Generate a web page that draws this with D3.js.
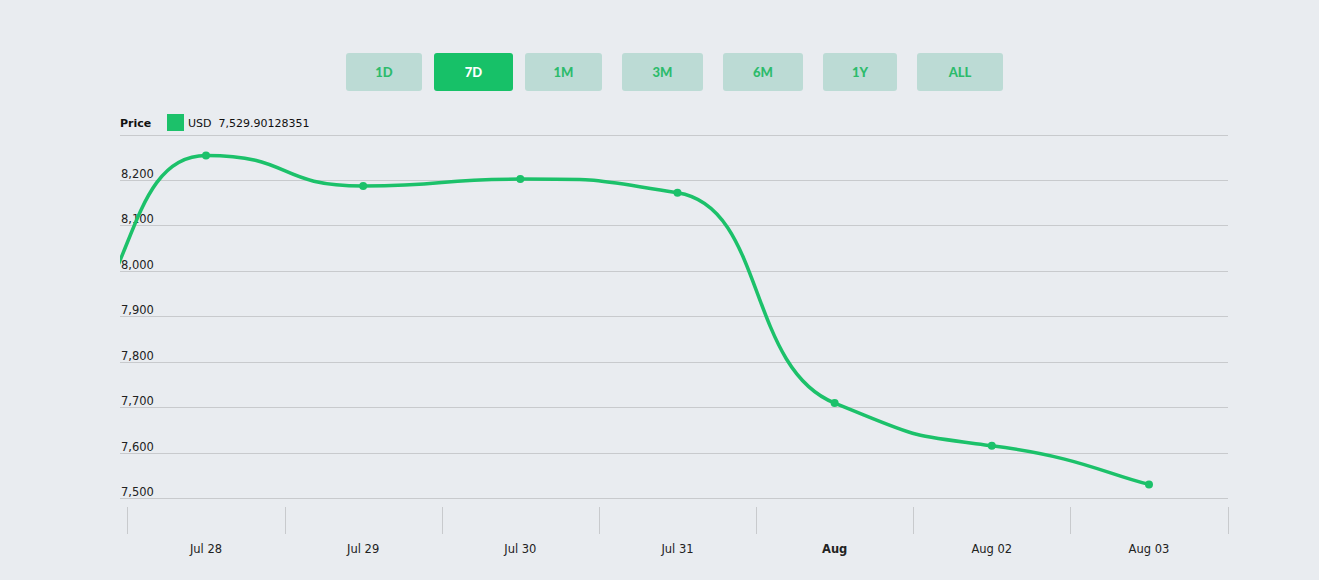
<!DOCTYPE html>
<html>
<head>
<meta charset="utf-8">
<script src="https://cdn.jsdelivr.net/npm/d3@7"></script>
<style>
  html, body { margin: 0; padding: 0; background: #e9ecf0; }
  svg { display: block; }
</style>
</head>
<body>
<svg id="chart" width="1319" height="580"></svg>
<script>
// ---- data ----
const dates = ["2018-07-26", "2018-07-27", "2018-07-28", "2018-07-29", "2018-07-30", "2018-07-31", "2018-08-01", "2018-08-02", "2018-08-03"];
const prices = [8170, 7872, 8254, 8187, 8202, 8172, 7709, 7615, 7529.90128351];
const yTicks = [7500, 7600, 7700, 7800, 7900, 8000, 8100, 8200, 8300];
const yLabelTicks = [7500, 7600, 7700, 7800, 7900, 8000, 8100, 8200];
const xLabelDates = ["2018-07-28", "2018-07-29", "2018-07-30", "2018-07-31", "2018-08-01", "2018-08-02", "2018-08-03"];
const xLabels = ["Jul 28", "Jul 29", "Jul 30", "Jul 31", "Aug", "Aug 02", "Aug 03"];
const buttons = ["1D", "7D", "1M", "3M", "6M", "1Y", "ALL"];
const activeButton = "7D";
const legendName = "USD";
const legendValue = "7,529.90128351";

const parse = d3.utcParse("%Y-%m-%d");
const data = dates.map((d, i) => ({ date: parse(d), value: prices[i] }));

const svg = d3.select("#chart");
const GREEN = "#1cc16a";
const FONT = "'DejaVu Sans', Verdana, sans-serif";
const pL = 120, pR = 1228, pT = 134.6, pB = 498;

// Tension spline (separate x / y tension), control points kept between neighbours
function tensionCurve(tx, ty) {
  const fx = 1 - tx, fy = 1 - ty;
  function T(context) { this._context = context; }
  T.prototype = {
    areaStart() {}, areaEnd() {},
    lineStart() { this._pts = []; },
    point(x, y) { this._pts.push([+x, +y]); },
    lineEnd() {
      const p = this._pts, c = this._context, n = p.length;
      if (!n) return;
      const ctl = p.map((pt, i) => {
        const pr = p[Math.max(i - 1, 0)], nx = p[Math.min(i + 1, n - 1)];
        const dx = (nx[0] - pr[0]) * fx;
        if (i === 0 || i === n - 1) {
          // end points: control along the chord to the neighbour
          const nb = i === 0 ? nx : pr;
          const ey = (nb[1] - pt[1]) * fx;
          return { lcx: pt[0] - dx, lcy: pt[1] + (i === 0 ? -ey : ey), rcx: pt[0] + dx, rcy: pt[1] + (i === 0 ? ey : -ey) };
        }
        let lcy = pt[1] - (nx[1] - pr[1]) * fy, rcy = pt[1] + (nx[1] - pr[1]) * fy;
        const ly = pr[1], py = pt[1], ny = nx[1];
        if (lcy > ly && lcy > py) { lcy = Math.max(ly, py); rcy = 2 * py - lcy; }
        else if (lcy < ly && lcy < py) { lcy = Math.min(ly, py); rcy = 2 * py - lcy; }
        if (rcy > ny && rcy > py) { rcy = Math.max(ny, py); lcy = 2 * py - rcy; }
        else if (rcy < ny && rcy < py) { rcy = Math.min(ny, py); lcy = 2 * py - rcy; }
        return { lcx: pt[0] - dx, lcy, rcx: pt[0] + dx, rcy };
      });
      c.moveTo(p[0][0], p[0][1]);
      for (let i = 1; i < n; i++) {
        const a = ctl[i - 1], b = ctl[i];
        c.bezierCurveTo(a.rcx, a.rcy, b.lcx, b.lcy, p[i][0], p[i][1]);
      }
    }
  };
  return ctx => new T(ctx);
}

// scales
const x = d3.scaleUtc()
  .domain([new Date(Date.UTC(2018, 6, 27, 10, 52)), new Date(Date.UTC(2018, 7, 3, 12, 4))])
  .range([pL, pR]);
const y = d3.scaleLinear().domain([7500, 8300]).range([pB, pT]);

// ---- range buttons ----
const btnBoxes = [[346, 422], [434, 513], [525, 602], [622, 703], [723, 803], [823, 897], [917, 1003]];
const bg = svg.append("g");
buttons.forEach((b, i) => {
  const [x0, x1] = btnBoxes[i];
  const act = b === activeButton;
  bg.append("rect").attr("x", x0).attr("y", 53).attr("width", x1 - x0).attr("height", 38)
    .attr("rx", 3).attr("fill", act ? "#17c168" : "#bcdbd5");
  bg.append("text").attr("x", (x0 + x1) / 2).attr("y", 77).attr("text-anchor", "middle")
    .attr("font-family", "Lato, 'Open Sans', sans-serif").attr("font-weight", 900)
    .attr("font-size", 13).attr("fill", act ? "#ffffff" : "#2dbb6c").text(b);
});

// ---- legend ----
svg.append("text").attr("x", 120).attr("y", 127).attr("font-family", FONT)
  .attr("font-size", 11).attr("font-weight", "bold").attr("fill", "#111").text("Price");
svg.append("rect").attr("x", 167).attr("y", 114).attr("width", 17).attr("height", 17).attr("fill", GREEN);
svg.append("text").attr("x", 188).attr("y", 127).attr("font-family", FONT)
  .attr("font-size", 11).attr("fill", "#111").attr("xml:space", "preserve").text(legendName + "  " + legendValue);

// ---- grid ----
svg.append("g").selectAll("line").data(yTicks).join("line")
  .attr("x1", pL).attr("x2", pR)
  .attr("y1", d => Math.round(y(d)) + 0.5).attr("y2", d => Math.round(y(d)) + 0.5)
  .attr("stroke", "#c8cacd").attr("stroke-width", 1);
svg.append("g").selectAll("text").data(yLabelTicks).join("text")
  .attr("x", 121).attr("y", d => y(d) - 2)
  .attr("font-family", FONT).attr("font-size", 11.5).attr("fill", "#222")
  .text(d => d3.format(",")(d));

// ---- x axis ----
const tickDates = d3.utcDay.range(new Date(Date.UTC(2018, 6, 27)), new Date(Date.UTC(2018, 7, 4)))
  .map(d => new Date(d.getTime() + 12 * 3600 * 1000));
svg.append("g").selectAll("line").data(tickDates).join("line")
  .attr("x1", d => Math.round(x(d)) + 0.5).attr("x2", d => Math.round(x(d)) + 0.5)
  .attr("y1", 507).attr("y2", 534).attr("stroke", "#c8cacd");
svg.append("g").selectAll("text").data(xLabelDates).join("text")
  .attr("x", d => x(parse(d))).attr("y", 553).attr("text-anchor", "middle")
  .attr("font-family", FONT).attr("font-size", 11.5)
  .attr("font-weight", (d, i) => xLabels[i] === "Aug" ? "bold" : "normal")
  .attr("fill", "#222")
  .text((d, i) => xLabels[i]);

// ---- line ----
svg.append("clipPath").attr("id", "clip").append("rect")
  .attr("x", pL).attr("y", 0).attr("width", pR - pL).attr("height", 580);
const line = d3.line().x(d => x(d.date)).y(d => y(d.value)).curve(tensionCurve(0.72, 0.86));
const plot = svg.append("g").attr("clip-path", "url(#clip)");
plot.append("path").datum(data).attr("d", line).attr("fill", "none")
  .attr("stroke", GREEN).attr("stroke-width", 3.5).attr("stroke-linejoin", "round").attr("stroke-linecap", "round");
plot.selectAll("circle").data(data.slice(2)).join("circle")
  .attr("cx", d => x(d.date)).attr("cy", d => y(d.value)).attr("r", 4).attr("fill", GREEN);
</script>
</body>
</html>
